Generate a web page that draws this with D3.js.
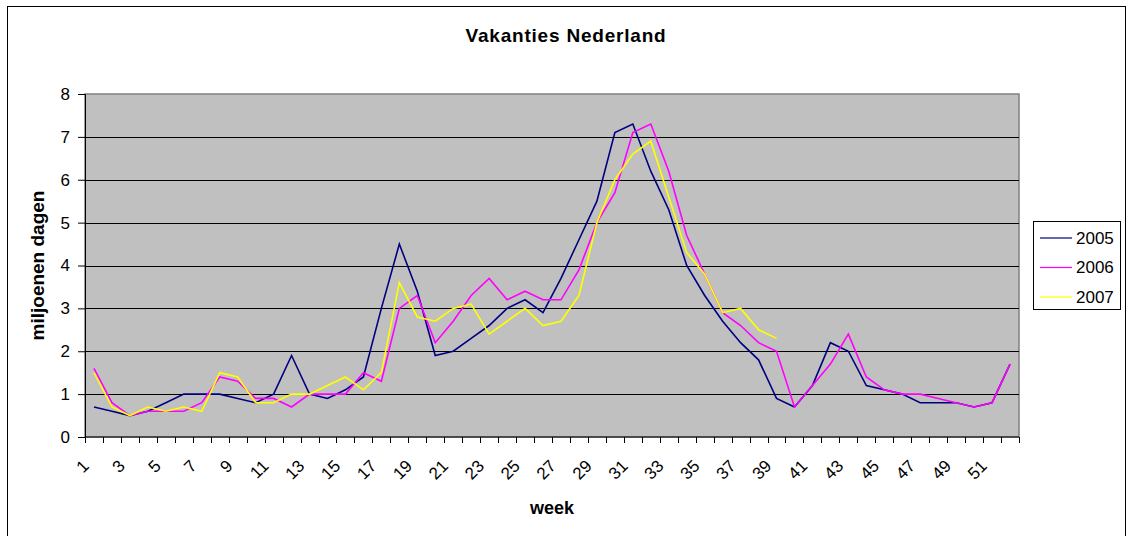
<!DOCTYPE html>
<html>
<head>
<meta charset="utf-8">
<script src="https://cdn.jsdelivr.net/npm/d3@7"></script>
<style>
  html, body { margin: 0; padding: 0; background: #fff; }
  svg { display: block; font-family: "Liberation Sans", Arial, sans-serif; }
</style>
</head>
<body>
<div id="chart"></div>
<script>
"use strict";

// weeks on the category axis
const weeks = [1, 2, 3, 4, 5, 6, 7, 8, 9, 10, 11, 12, 13, 14, 15, 16, 17, 18,
  19, 20, 21, 22, 23, 24, 25, 26, 27, 28, 29, 30, 31, 32, 33, 34, 35, 36, 37,
  38, 39, 40, 41, 42, 43, 44, 45, 46, 47, 48, 49, 50, 51, 52];
const weekLabels = [1, 3, 5, 7, 9, 11, 13, 15, 17, 19, 21, 23, 25, 27, 29, 31,
  33, 35, 37, 39, 41, 43, 45, 47, 49, 51];
const yTicks = [0, 1, 2, 3, 4, 5, 6, 7, 8];

const seriesNames = ["2005", "2006", "2007"];
const values2005 = [0.7, 0.6, 0.5, 0.6, 0.8, 1.0, 1.0, 1.0, 0.9, 0.8,
  1.0, 1.9, 1.0, 0.9, 1.1, 1.4, 3.0, 4.5, 3.4, 1.9,
  2.0, 2.3, 2.6, 3.0, 3.2, 2.9, 3.7, 4.6, 5.5, 7.1,
  7.3, 6.2, 5.3, 4.0, 3.3, 2.7, 2.2, 1.8, 0.9, 0.7,
  1.2, 2.2, 2.0, 1.2, 1.1, 1.0, 0.8, 0.8, 0.8, 0.7,
  0.8, 1.7];
const values2006 = [1.6, 0.8, 0.5, 0.6, 0.6, 0.6, 0.8, 1.4, 1.3, 0.9,
  0.9, 0.7, 1.0, 1.0, 1.0, 1.5, 1.3, 3.0, 3.3, 2.2,
  2.7, 3.3, 3.7, 3.2, 3.4, 3.2, 3.2, 3.9, 5.0, 5.7,
  7.1, 7.3, 6.2, 4.7, 3.8, 2.9, 2.6, 2.2, 2.0, 0.7,
  1.2, 1.7, 2.4, 1.4, 1.1, 1.0, 1.0, 0.9, 0.8, 0.7,
  0.8, 1.7];
const values2007 = [1.5, 0.7, 0.5, 0.7, 0.6, 0.7, 0.6, 1.5, 1.4, 0.8,
  0.8, 1.0, 1.0, 1.2, 1.4, 1.1, 1.5, 3.6, 2.8, 2.7,
  3.0, 3.1, 2.4, 2.7, 3.0, 2.6, 2.7, 3.3, 5.0, 6.0,
  6.6, 6.9, 5.6, 4.3, 3.8, 2.9, 3.0, 2.5, 2.3, null,
  null, null, null, null, null, null, null, null, null, null,
  null, null];

const seriesColors = ["#000080", "#ff00ff", "#ffff00"];

const W = 1130;
const H = 536;
const plot = { left: 85, right: 1019, top: 94, bottom: 437 };

const svg = d3
  .select("#chart")
  .append("svg")
  .attr("width", W)
  .attr("height", H);

// outer chart border
svg
  .append("rect")
  .attr("x", 7.5)
  .attr("y", 6.5)
  .attr("width", 1118)
  .attr("height", 540)
  .attr("fill", "#fff")
  .attr("stroke", "#000")
  .attr("stroke-width", 1);

const x = d3
  .scaleBand()
  .domain(weeks)
  .range([plot.left, plot.right]);

const y = d3
  .scaleLinear()
  .domain([0, 8])
  .range([plot.bottom, plot.top]);

// plot background
svg
  .append("rect")
  .attr("x", plot.left)
  .attr("y", plot.top)
  .attr("width", plot.right - plot.left)
  .attr("height", plot.bottom - plot.top)
  .attr("fill", "#c0c0c0")
  .attr("stroke", "#808080")
  .attr("stroke-width", 1.5);

// gridlines
svg
  .append("g")
  .selectAll("line")
  .data(yTicks.filter((t) => t > 0 && t < 8))
  .enter()
  .append("line")
  .attr("x1", plot.left)
  .attr("x2", plot.right)
  .attr("y1", (d) => Math.round(y(d)) + 0.5)
  .attr("y2", (d) => Math.round(y(d)) + 0.5)
  .attr("stroke", "#000")
  .attr("stroke-width", 1);

// y axis
const yAxis = svg
  .append("g")
  .attr("transform", `translate(${plot.left},0)`)
  .call(d3.axisLeft(y).tickValues(yTicks).tickSize(7).tickPadding(8));
yAxis.select(".domain").attr("stroke", "#000");
yAxis
  .selectAll("text")
  .attr("font-size", 17)
  .attr("font-family", "Liberation Sans, Arial, sans-serif")
  .attr("fill", "#000");

// x axis: ticks between categories
const xAxis = svg
  .append("g")
  .attr("transform", `translate(0,${plot.bottom})`);
xAxis
  .append("line")
  .attr("x1", plot.left)
  .attr("x2", plot.right)
  .attr("stroke", "#000");
xAxis
  .selectAll("line.tick")
  .data(weeks.concat([null]))
  .enter()
  .append("line")
  .attr("class", "tick")
  .attr("x1", (d, i) => Math.round(plot.left + i * x.step()) + 0.5)
  .attr("x2", (d, i) => Math.round(plot.left + i * x.step()) + 0.5)
  .attr("y1", 0)
  .attr("y2", 6)
  .attr("stroke", "#000");
xAxis
  .selectAll("text")
  .data(weekLabels)
  .enter()
  .append("text")
  .attr(
    "transform",
    (d) => `translate(${x(d) + x.bandwidth() / 2 - 4},${30}) rotate(-45)`
  )
  .attr("text-anchor", "end")
  .attr("font-size", 17)
  .text((d) => d);

// lines
const line = d3
  .line()
  .defined((d) => d != null)
  .x((d, i) => x(weeks[i]) + x.bandwidth() / 2)
  .y((d) => y(d));

const allSeries = [values2005, values2006, values2007];
svg
  .append("g")
  .selectAll("path")
  .data(allSeries)
  .enter()
  .append("path")
  .attr("d", line)
  .attr("fill", "none")
  .attr("stroke", (d, i) => seriesColors[i])
  .attr("stroke-width", 1.6)
  .attr("stroke-linejoin", "miter");

// titles
svg
  .append("text")
  .attr("x", 566)
  .attr("y", 42)
  .attr("text-anchor", "middle")
  .attr("font-size", 19)
  .attr("font-weight", "bold")
  .attr("letter-spacing", 0.8)
  .text("Vakanties Nederland");

svg
  .append("text")
  .attr("x", (plot.left + plot.right) / 2)
  .attr("y", 514)
  .attr("text-anchor", "middle")
  .attr("font-size", 18)
  .attr("font-weight", "bold")
  .text("week");

svg
  .append("text")
  .attr("transform", `translate(44,${(plot.top + plot.bottom) / 2}) rotate(-90)`)
  .attr("text-anchor", "middle")
  .attr("font-size", 19)
  .attr("font-weight", "bold")
  .text("miljoenen dagen");

// legend
const legend = svg.append("g").attr("transform", "translate(1033,221)");
legend
  .append("rect")
  .attr("x", 0.5)
  .attr("y", 0.5)
  .attr("width", 87)
  .attr("height", 88)
  .attr("fill", "#fff")
  .attr("stroke", "#000");
const item = legend
  .selectAll("g.item")
  .data(seriesNames)
  .enter()
  .append("g")
  .attr("class", "item")
  .attr("transform", (d, i) => `translate(0,${17 + i * 29.5})`);
item
  .append("line")
  .attr("x1", 7)
  .attr("x2", 39)
  .attr("stroke", (d, i) => seriesColors[i])
  .attr("stroke-width", 1.2);
item
  .append("text")
  .attr("x", 43)
  .attr("dy", "0.35em")
  .attr("font-size", 17)
  .text((d) => d);
</script>
</body>
</html>
